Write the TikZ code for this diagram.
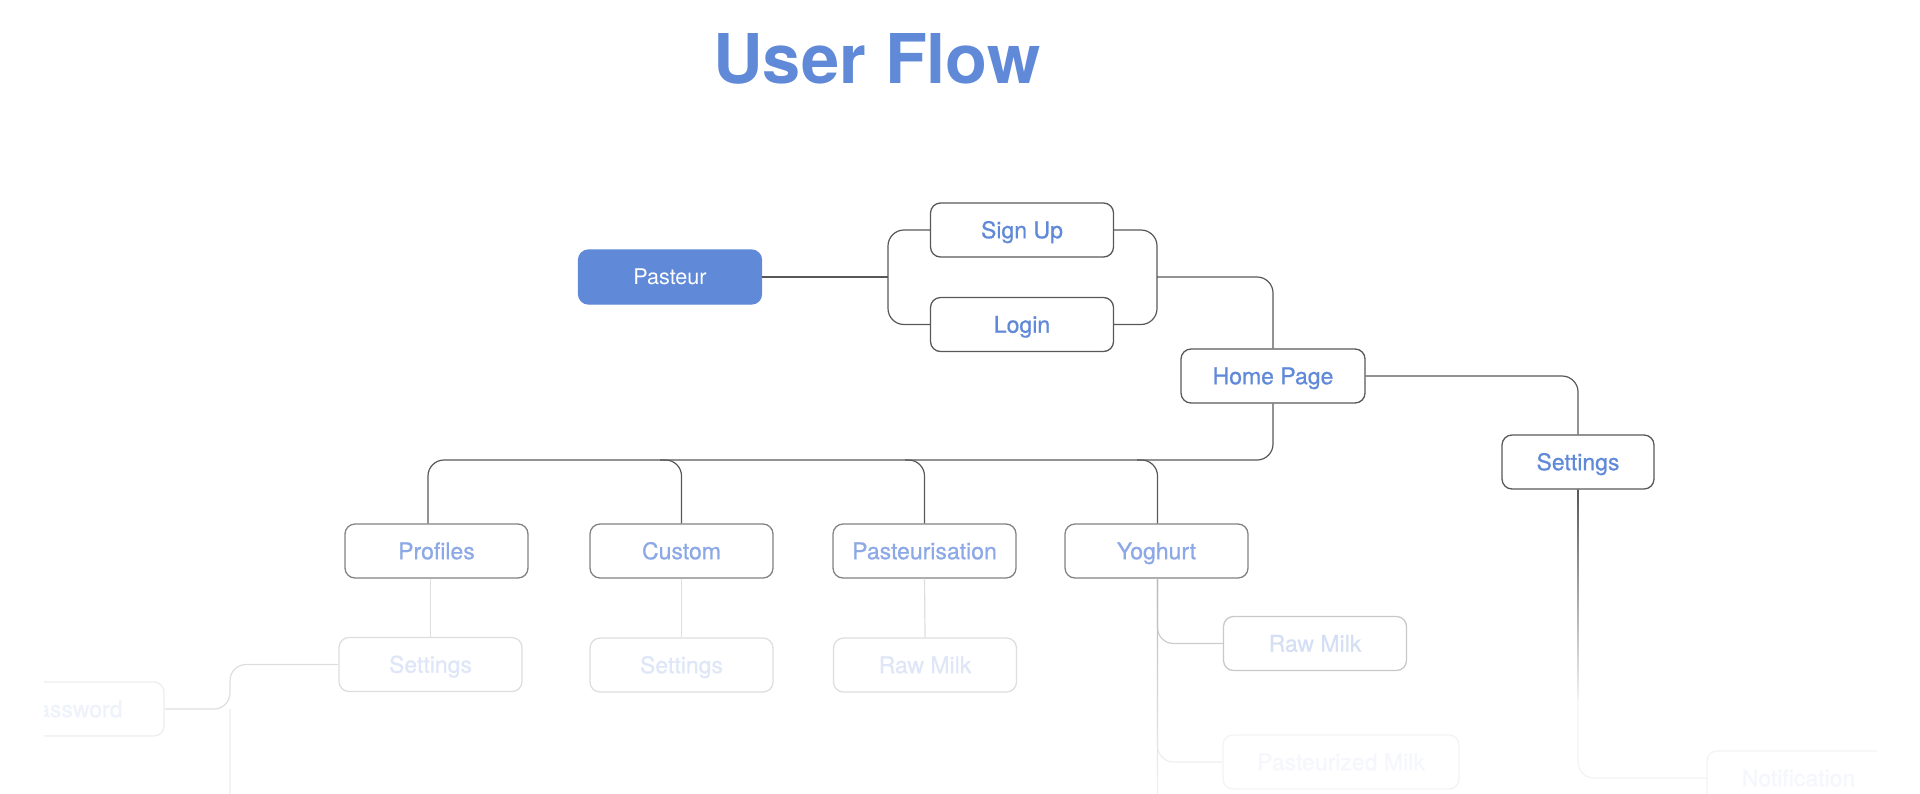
\documentclass[tikz,border=0pt]{standalone}
\usepackage{fontspec}
\setmainfont{TeX Gyre Heros}
\definecolor{blueA}{RGB}{96,137,216}
\definecolor{lineA}{RGB}{88,88,88}
\definecolor{blueB}{RGB}{140,168,230}
\definecolor{lineB}{RGB}{130,130,130}
\definecolor{blueC}{RGB}{222,230,248}
\definecolor{lineC}{RGB}{222,222,222}
\definecolor{blueD}{RGB}{238,242,251}
\definecolor{lineD}{RGB}{238,238,238}
\definecolor{blueE}{RGB}{245,247,252}
\definecolor{lineE}{RGB}{243,243,243}
\tikzset{
  box/.style={draw=lineA, line width=0.65pt, rounded corners=5pt, fill=white,
    minimum width=91.5pt, minimum height=27pt, inner sep=0pt,
    text height=8.2pt, text depth=0pt,
    text=blueA, font=\fontsize{11.5}{13}\selectfont\addfontfeature{FakeBold=0.7}},
  boxB/.style={box, draw=lineB, text=blueB},
  boxC/.style={box, draw=lineC, text=blueC},
  boxD/.style={box, draw=lineD, text=blueD},
  boxE/.style={box, draw=lineE, text=blueE},
  conn/.style={draw=lineA, line width=0.6pt, rounded corners=8pt},
}
\begin{document}
\begin{tikzpicture}[x=0.5pt,y=-0.5pt]
\useasboundingbox (0,0) rectangle (1920,793);
\clip (44,0) rectangle (1877,793);
% title
\node[anchor=base, text=blueA, font=\fontsize{34.3}{38}\selectfont\bfseries] (title) at (877,83) {User Flow};
% top level nodes
\node[box, fill=blueA, draw=blueA, text=white, text height=7.8pt, font=\fontsize{10.8}{13}\selectfont] (pasteur) at (670,277) {Pasteur};
\node[box] (signup) at (1022,230) {Sign Up};
\node[box] (login) at (1022,324.5) {Login};
\node[box, minimum width=92pt] (home) at (1273,376) {Home Page};
\node[box, minimum width=76pt] (setR) at (1578,462) {Settings};
% second row
\node[boxB] (prof) at (436.5,551) {Profiles};
\node[boxB] (cust) at (681.5,551) {Custom};
\node[boxB] (past) at (924.5,551) {Pasteurisation};
\node[boxB] (yog) at (1156.5,551) {Yoghurt};
% third row
\node[boxC] (s1) at (430.5,664.5) {Settings};
\node[boxC] (s2) at (681.5,665) {Settings};
\node[boxC] (rm1) at (925,665) {Raw Milk};
\node[boxC, draw=lineC!90!black, text=blueC!92!blueA] (rm2) at (1315,643.5) {Raw Milk};
\node[boxE, minimum width=118pt] (pm) at (1341,762) {Pasteurized Milk};
\node[boxE] (notif) at (1798.5,778) {Notification};
\node[boxD] (pwd) at (72.5,709) {Password};
% coordinates
\coordinate (brL) at (888,277);
\coordinate (brR) at (1157,277);
\coordinate (busL) at (428,460);
\coordinate (busC) at (660,460);
\coordinate (busP) at (905,460);
\coordinate (busY) at (1137,460);
\coordinate (pv) at (230,709);
\coordinate (pvBot) at (230,800);
\coordinate (yBot) at (1157,800);
% connectors top
\draw[conn] (pasteur.east) -- (brL);
\draw[conn] (brL) |- (signup.west);
\draw[conn] (brL) |- (login.west);
\draw[conn] (signup.east) -| (brR);
\draw[conn] (login.east) -| (brR);
\draw[conn] (brR) -| (home.north);
\draw[conn] (home.east) -| (setR.north);
\draw[conn] (home.south) |- (busL) -- (busL |- prof.north);
\draw[conn] (busC) -| (cust.north);
\draw[conn] (busP) -| (past.north);
\draw[conn] (busY) -| ([xshift=0.5pt]yog.north);
% faded lower connectors
\draw[conn, draw=lineE] (setR.south) |- (notif.west);
\shade[top color=lineA, bottom color=lineE]
  ([xshift=-0.3pt]setR.south) rectangle ([xshift=0.3pt,yshift=-105pt]setR.south);
\draw[conn, draw=lineC] (s1.north |- prof.south) -- (s1.north);
\draw[conn, draw=lineC] (cust.south) -- (s2.north);
\draw[conn, draw=lineC] (past.south) -- (rm1.north);
\draw[conn, draw=lineE] ([xshift=0.5pt]yog.south) -- ([xshift=0.5pt]yog.south |- yBot);
\draw[conn, draw=lineD] ([xshift=0.5pt]yog.south) |- (pm.west);
\draw[conn, draw=lineC!92!black] ([xshift=0.5pt]yog.south) |- (rm2.west);
\shade[top color=black!28, bottom color=lineE]
  ([xshift=0.2pt]yog.south) rectangle ([xshift=0.8pt]yog.south |- yBot);
\draw[conn, draw=lineC] (s1.west) -| (pv) -- (pwd.east);
\draw[conn, draw=lineE] (pv) -- (pvBot);
\end{tikzpicture}
\end{document}
